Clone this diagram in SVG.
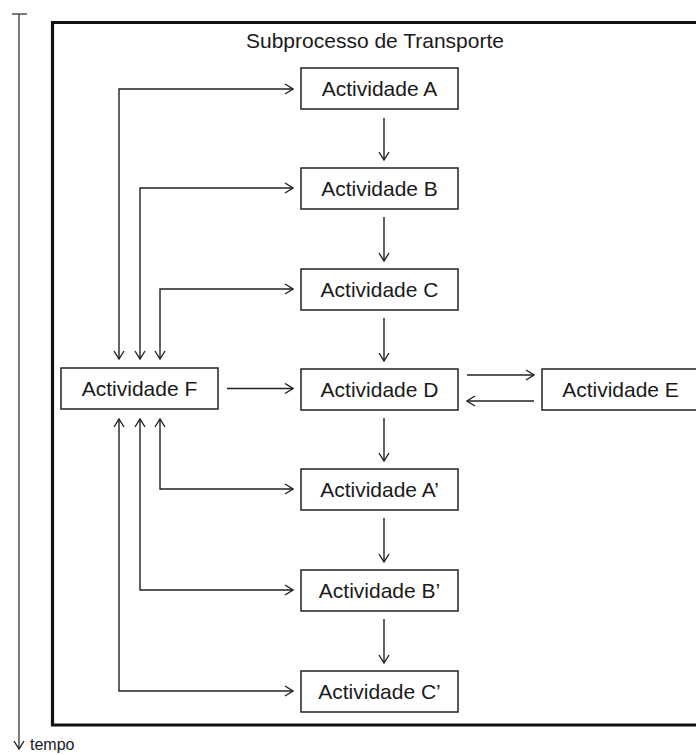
<svg xmlns="http://www.w3.org/2000/svg" width="696" height="755" viewBox="0 0 696 755">
  <style>
    .box { fill: #ffffff; stroke: #222222; stroke-width: 1.5; }
    .lbl { font-family: "Liberation Sans", Arial, sans-serif; font-size: 21px; fill: #1a1a1a; text-anchor: middle; }
    .wire { fill: none; stroke: #222222; stroke-width: 1.4; }
    .axis { fill: none; stroke: #444444; stroke-width: 1.4; }
    .frame { fill: none; stroke: #111111; stroke-width: 3.2; }
  </style>
  <defs>
    <marker id="head" viewBox="0 0 10 12" refX="9" refY="6" markerWidth="10" markerHeight="12" markerUnits="userSpaceOnUse" orient="auto-start-reverse">
      <path d="M1,1 L9,6 L1,11" fill="none" stroke="#222222" stroke-width="1.4"/>
    </marker>
  </defs>

  <rect width="696" height="755" fill="#ffffff"/>

  <!-- time axis -->
  <g id="time-axis">
    <line x1="12" y1="14" x2="27" y2="14" class="axis"/>
    <line x1="19" y1="14" x2="19" y2="749" class="axis" marker-end="url(#head)"/>
    <text x="30" y="750" font-family="Liberation Sans, Arial, sans-serif" font-size="16" fill="#1a1a1a">tempo</text>
  </g>

  <!-- subprocess frame -->
  <g id="subprocess">
    <path d="M700,22.5 L52.5,22.5 L52.5,725 L700,725" class="frame"/>
    <text x="375" y="48" class="lbl">Subprocesso de Transporte</text>
  </g>

  <!-- connectors -->
  <g id="connectors">
    <!-- main sequence -->
    <line x1="384" y1="118" x2="384" y2="160" class="wire" marker-end="url(#head)"/>
    <line x1="384" y1="217" x2="384" y2="261" class="wire" marker-end="url(#head)"/>
    <line x1="384" y1="318" x2="384" y2="361" class="wire" marker-end="url(#head)"/>
    <line x1="384" y1="418" x2="384" y2="461" class="wire" marker-end="url(#head)"/>
    <line x1="384" y1="518" x2="384" y2="562" class="wire" marker-end="url(#head)"/>
    <line x1="384" y1="619" x2="384" y2="663" class="wire" marker-end="url(#head)"/>
    <!-- F to D -->
    <line x1="227" y1="388.5" x2="293" y2="388.5" class="wire" marker-end="url(#head)"/>
    <!-- D and E -->
    <line x1="467" y1="375" x2="534" y2="375" class="wire" marker-end="url(#head)"/>
    <line x1="534" y1="401" x2="467" y2="401" class="wire" marker-end="url(#head)"/>
    <!-- F with A, B, C -->
    <path d="M119,359 L119,89 L293,89" class="wire" marker-start="url(#head)" marker-end="url(#head)"/>
    <path d="M140,359 L140,188 L293,188" class="wire" marker-start="url(#head)" marker-end="url(#head)"/>
    <path d="M160,359 L160,289 L293,289" class="wire" marker-start="url(#head)" marker-end="url(#head)"/>
    <!-- F with A', B', C' -->
    <path d="M160,419 L160,489 L293,489" class="wire" marker-start="url(#head)" marker-end="url(#head)"/>
    <path d="M140,419 L140,590 L293,590" class="wire" marker-start="url(#head)" marker-end="url(#head)"/>
    <path d="M119,419 L119,691 L293,691" class="wire" marker-start="url(#head)" marker-end="url(#head)"/>
  </g>

  <!-- activities -->
  <g id="act-a">
    <rect x="301" y="68" width="157" height="41" class="box"/>
    <text x="379.5" y="96" class="lbl">Actividade A</text>
  </g>
  <g id="act-b">
    <rect x="301" y="168" width="157" height="41" class="box"/>
    <text x="379.5" y="196" class="lbl">Actividade B</text>
  </g>
  <g id="act-c">
    <rect x="301" y="269" width="157" height="41" class="box"/>
    <text x="379.5" y="297" class="lbl">Actividade C</text>
  </g>
  <g id="act-d">
    <rect x="301" y="369" width="157" height="41" class="box"/>
    <text x="379.5" y="397" class="lbl">Actividade D</text>
  </g>
  <g id="act-e">
    <rect x="542" y="369" width="157" height="41" class="box"/>
    <text x="620.5" y="397" class="lbl">Actividade E</text>
  </g>
  <g id="act-f">
    <rect x="61" y="368" width="157" height="41" class="box"/>
    <text x="139.5" y="396" class="lbl">Actividade F</text>
  </g>
  <g id="act-a2">
    <rect x="301" y="469" width="157" height="41" class="box"/>
    <text x="379.5" y="497" class="lbl">Actividade A’</text>
  </g>
  <g id="act-b2">
    <rect x="301" y="570" width="157" height="41" class="box"/>
    <text x="379.5" y="598" class="lbl">Actividade B’</text>
  </g>
  <g id="act-c2">
    <rect x="301" y="671" width="157" height="41" class="box"/>
    <text x="379.5" y="699" class="lbl">Actividade C’</text>
  </g>
</svg>
